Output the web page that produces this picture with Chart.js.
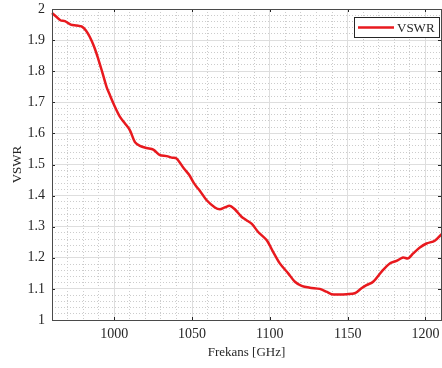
<!DOCTYPE html>
<html>
<head>
<meta charset="utf-8">
<script src="https://cdn.jsdelivr.net/npm/chart.js@4"></script>
<style>
html,body{margin:0;padding:0;background:#fff;}
#wrap{width:442px;height:368px;position:relative;}
</style>
</head>
<body>
<div id="wrap"><canvas id="c" width="442" height="368"></canvas></div>
<script>
const seriesLabel = 'VSWR';
const freq = [960,962.6,965.6,968.3,972,975.9,979,981.8,984.4,987.2,989.7,992.3,995.1,997.3,1000.5,1003.7,1006.9,1010.1,1013.3,1016.5,1020.8,1025.1,1029.4,1033.7,1036.9,1040.1,1044.8,1048,1051,1053,1055.1,1059.4,1064.7,1067.9,1071.1,1074.3,1077.5,1081.8,1085,1088.6,1092.5,1097.9,1102.1,1106.4,1111.8,1116.1,1120.4,1125.7,1132.1,1136.4,1139.6,1145,1149.3,1154.6,1158.9,1162.1,1166.4,1171.7,1177.1,1181.4,1185.6,1188.8,1192.1,1196.4,1200.7,1206,1210.3];
const vswr = [1.987,1.976,1.963,1.961,1.950,1.947,1.944,1.931,1.909,1.877,1.840,1.797,1.749,1.722,1.685,1.653,1.632,1.610,1.572,1.560,1.553,1.548,1.530,1.527,1.522,1.519,1.487,1.468,1.442,1.428,1.415,1.385,1.362,1.356,1.362,1.367,1.356,1.332,1.321,1.308,1.283,1.257,1.219,1.182,1.150,1.123,1.110,1.104,1.100,1.091,1.083,1.082,1.083,1.086,1.102,1.112,1.123,1.155,1.182,1.190,1.201,1.198,1.214,1.233,1.246,1.255,1.276];
const xTicks = [1000,1050,1100,1150,1200];
const yTicks = [1,1.1,1.2,1.3,1.4,1.5,1.6,1.7,1.8,1.9,2];
const xMinorTicks = [960,970,980,990,1000,1010,1020,1030,1040,1050,1060,1070,1080,1090,1100,1110,1120,1130,1140,1150,1160,1170,1180,1190,1200,1210];
const yMinorTicks = [1,1.02,1.04,1.06,1.08,1.1,1.12,1.14,1.16,1.18,1.2,1.22,1.24,1.26,1.28,1.3,1.32,1.34,1.36,1.38,1.4,1.42,1.44,1.46,1.48,1.5,1.52,1.54,1.56,1.58,1.6,1.62,1.64,1.66,1.68,1.7,1.72,1.74,1.76,1.78,1.8,1.82,1.84,1.86,1.88,1.9,1.92,1.94,1.96,1.98,2];

const FONT = "'Liberation Serif', 'Times New Roman', serif";
const TXT = '#262626';
const RED = '#e8191e';

const boxPlugin = {
  id: 'box',
  afterDraw(chart) {
    const {ctx, chartArea: a, scales} = chart;
    ctx.save();
    ctx.strokeStyle = '#262626';
    ctx.lineWidth = 1;
    ctx.beginPath();
    xTicks.forEach(v => {
      const x = Math.round(scales.x.getPixelForValue(v)) + 0.5;
      ctx.moveTo(x, a.bottom); ctx.lineTo(x, a.bottom - 3);
      ctx.moveTo(x, a.top); ctx.lineTo(x, a.top + 3);
    });
    yTicks.forEach(v => {
      const y = Math.round(scales.y.getPixelForValue(v)) + 0.5;
      ctx.moveTo(a.left, y); ctx.lineTo(a.left + 3, y);
      ctx.moveTo(a.right, y); ctx.lineTo(a.right - 3, y);
    });
    ctx.stroke();
    ctx.strokeStyle = '#4a4a4a';
    ctx.strokeRect(Math.round(a.left) + 0.5, Math.round(a.top) + 0.5, Math.round(a.right - a.left), Math.round(a.bottom - a.top));
    const lx = 354.5, ly = 17.5, lw = 85, lh = 20;
    ctx.fillStyle = '#fff';
    ctx.fillRect(lx, ly, lw, lh);
    ctx.strokeStyle = '#262626';
    ctx.strokeRect(lx, ly, lw, lh);
    ctx.strokeStyle = chart.data.datasets[0].borderColor;
    ctx.lineWidth = 2.5;
    ctx.beginPath();
    ctx.moveTo(358, ly + lh / 2); ctx.lineTo(394, ly + lh / 2);
    ctx.stroke();
    ctx.fillStyle = TXT;
    ctx.font = '13px ' + FONT;
    ctx.textBaseline = 'middle';
    ctx.fillText(chart.data.datasets[0].label, 397, ly + lh / 2 + 1);
    ctx.restore();
  }
};

new Chart(document.getElementById('c'), {
  type: 'line',
  data: {
    datasets: [{
      label: seriesLabel,
      data: freq.map((f, i) => ({x: f, y: vswr[i]})),
      borderColor: RED,
      borderWidth: 2.5,
      pointRadius: 0,
      tension: 0.3,
      fill: false,
      clip: 2
    }]
  },
  options: {
    responsive: false,
    animation: false,
    devicePixelRatio: 1,
    layout: {padding: {top: 9, right: 1, left: 0, bottom: 0}},
    plugins: {legend: {display: false}, tooltip: {enabled: false}},
    scales: {
      xMinor: {
        type: 'linear', position: 'bottom', min: 960, max: 1210,
        afterBuildTicks: s => { s.ticks = xMinorTicks.map(v => ({value: v})); },
        afterFit: s => { s.height = 0; s.paddingLeft = 0; s.paddingRight = 0; },
        ticks: {display: false},
        grid: {color: '#cccccc', lineWidth: 1, drawTicks: false},
        border: {display: false, dash: [1, 2]}
      },
      yMinor: {
        type: 'linear', position: 'left', min: 1, max: 2,
        afterBuildTicks: s => { s.ticks = yMinorTicks.map(v => ({value: v})); },
        afterFit: s => { s.width = 0; s.paddingTop = 0; s.paddingBottom = 0; },
        ticks: {display: false},
        grid: {color: '#cccccc', lineWidth: 1, drawTicks: false},
        border: {display: false, dash: [1, 2]}
      },
      x: {
        type: 'linear', position: 'bottom', min: 960, max: 1210,
        afterBuildTicks: s => { s.ticks = xTicks.map(v => ({value: v})); },
        afterFit: s => { s.height = 48; s.paddingLeft = 0; s.paddingRight = 0; },
        ticks: {font: {family: FONT, size: 14}, color: TXT, padding: 6, maxRotation: 0,
          callback: v => String(v)},
        grid: {color: '#dedede', lineWidth: 1, drawTicks: false},
        border: {display: false},
        title: {display: true, text: 'Frekans [GHz]', font: {family: FONT, size: 13}, color: TXT, padding: {top: 2, bottom: 8}}
      },
      y: {
        type: 'linear', position: 'left', min: 1, max: 2,
        afterBuildTicks: s => { s.ticks = yTicks.map(v => ({value: v})); },
        afterFit: s => { s.width = 52; s.paddingTop = 0; s.paddingBottom = 0; },
        ticks: {font: {family: FONT, size: 14}, color: TXT, padding: 7,
          callback: v => String(Math.round(v * 10) / 10)},
        grid: {color: '#dedede', lineWidth: 1, drawTicks: false},
        border: {display: false},
        title: {display: true, text: 'VSWR', font: {family: FONT, size: 13}, color: TXT, padding: {top: 10, bottom: 0}}
      }
    }
  },
  plugins: [boxPlugin]
});
</script>
</body>
</html>
